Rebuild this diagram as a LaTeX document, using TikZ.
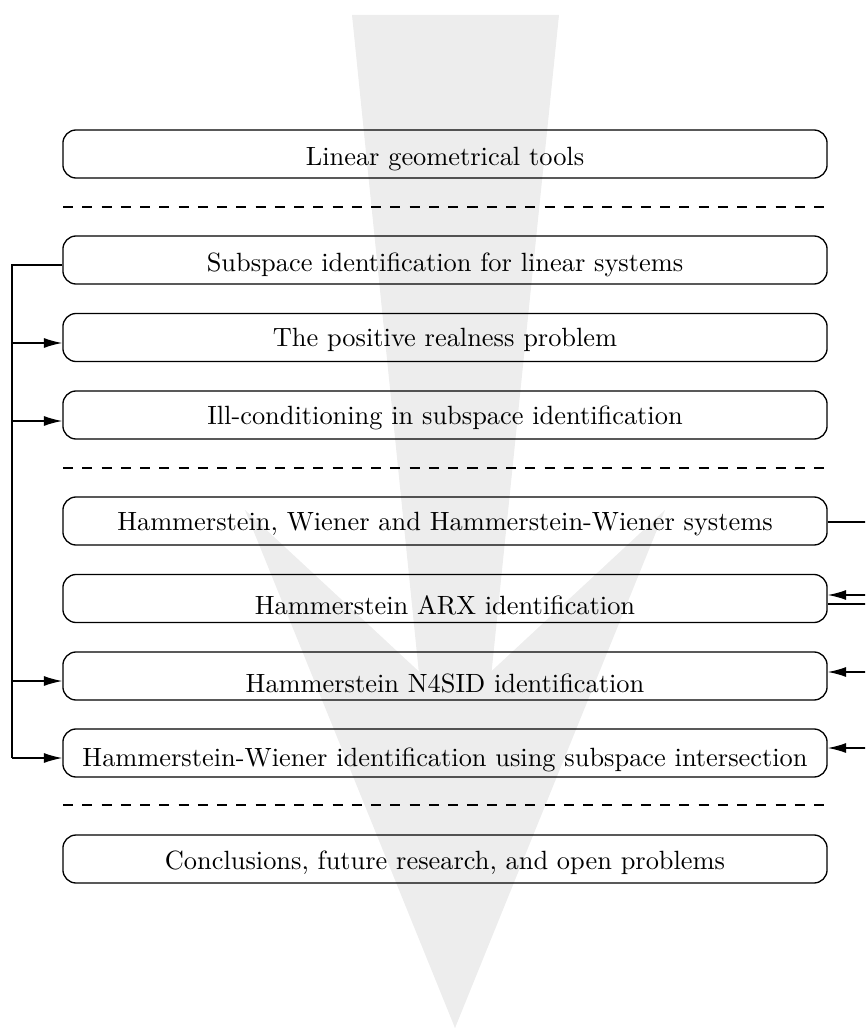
\documentclass[tikz,border=0pt]{standalone}
\usetikzlibrary{arrows.meta}
\definecolor{bg}{RGB}{237,237,237}
\begin{document}
\begin{tikzpicture}[x=0.379pt,y=-0.379pt,
  box/.style={draw, line width=0.5pt, rounded corners=5pt, minimum width=289.6pt, minimum height=18.2pt, inner sep=0pt},
  lbl/.style={anchor=base, inner sep=0pt},
  conn/.style={line width=0.5pt},
  arr/.style={conn, -{Latex[length=7pt,width=3.8pt]}},
  sep/.style={line width=0.5pt, dash pattern=on 3.8pt off 3.5pt}]
\useasboundingbox (0,0) rectangle (865,1028);
\begin{scope}
\clip (0,0) rectangle (865,1028);
% background arrow
\fill[bg] (352,15) -- (559,15) -- (455,1028) -- cycle;
\fill[bg] (245,510) -- (455,705) -- (665,510) -- (455,1028) -- cycle;
% separators
\coordinate (s1l) at (63,207); \coordinate (s1r) at (828,207);
\coordinate (s2l) at (63,468); \coordinate (s2r) at (828,468);
\coordinate (s3l) at (63,805); \coordinate (s3r) at (828,805);
\draw[sep] (s1l) -- (s1r);
\draw[sep] (s2l) -- (s2r);
\draw[sep] (s3l) -- (s3r);
% boxes
\node[box] (b1) at (445,154) {};
\node[box] (b2) at (445,260) {};
\node[box] (b3) at (445,337.5) {};
\node[box] (b4) at (445,415) {};
\node[box] (b5) at (445,521) {};
\node[box] (b6) at (445,598.5) {};
\node[box] (b7) at (445,676) {};
\node[box] (b8) at (445,753) {};
\node[box] (b9) at (445,859) {};
\node[lbl] (t1) at (445,166) {Linear geometrical tools};
\node[lbl] (t2) at (445,272) {Subspace identification for linear systems};
\node[lbl] (t3) at (445,347) {The positive realness problem};
\node[lbl] (t4) at (445,424) {Ill-conditioning in subspace identification};
\node[lbl] (t5) at (445,530) {Hammerstein, Wiener and Hammerstein-Wiener systems};
\node[lbl] (t6) at (445,614) {Hammerstein ARX identification};
\node[lbl] (t7) at (445,692) {Hammerstein N4SID identification};
\node[lbl] (t8) at (445,766) {Hammerstein-Wiener identification using subspace intersection};
\node[lbl] (t9) at (445,869) {Conclusions, future research, and open problems};
% left connectors
\coordinate (L) at (12,0);
\coordinate (y2) at (0,265);
\coordinate (y3) at (0,343);
\coordinate (y4) at (0,421);
\coordinate (y7) at (0,681);
\coordinate (y8) at (0,758);
\draw[conn] (b2.west |- y2) -- (L |- y2) -- (L |- y8);
\draw[arr] (L |- y3) -- (b3.west |- y3);
\draw[arr] (L |- y4) -- (b4.west |- y4);
\draw[arr] (L |- y7) -- (b7.west |- y7);
\draw[arr] (L |- y8) -- (b8.west |- y8);
% right connectors
\coordinate (R) at (875,0);
\coordinate (r5) at (0,522);
\coordinate (r6a) at (0,595);
\coordinate (r6b) at (0,604);
\coordinate (r7) at (0,672);
\coordinate (r8) at (0,748);
\draw[conn] (b5.east |- r5) -- (R |- r5);
\draw[arr] (R |- r6a) -- (b6.east |- r6a);
\draw[conn] (R |- r6b) -- (b6.east |- r6b);
\draw[arr] (R |- r7) -- (b7.east |- r7);
\draw[arr] (R |- r8) -- (b8.east |- r8);
\end{scope}
\end{tikzpicture}
\end{document}
